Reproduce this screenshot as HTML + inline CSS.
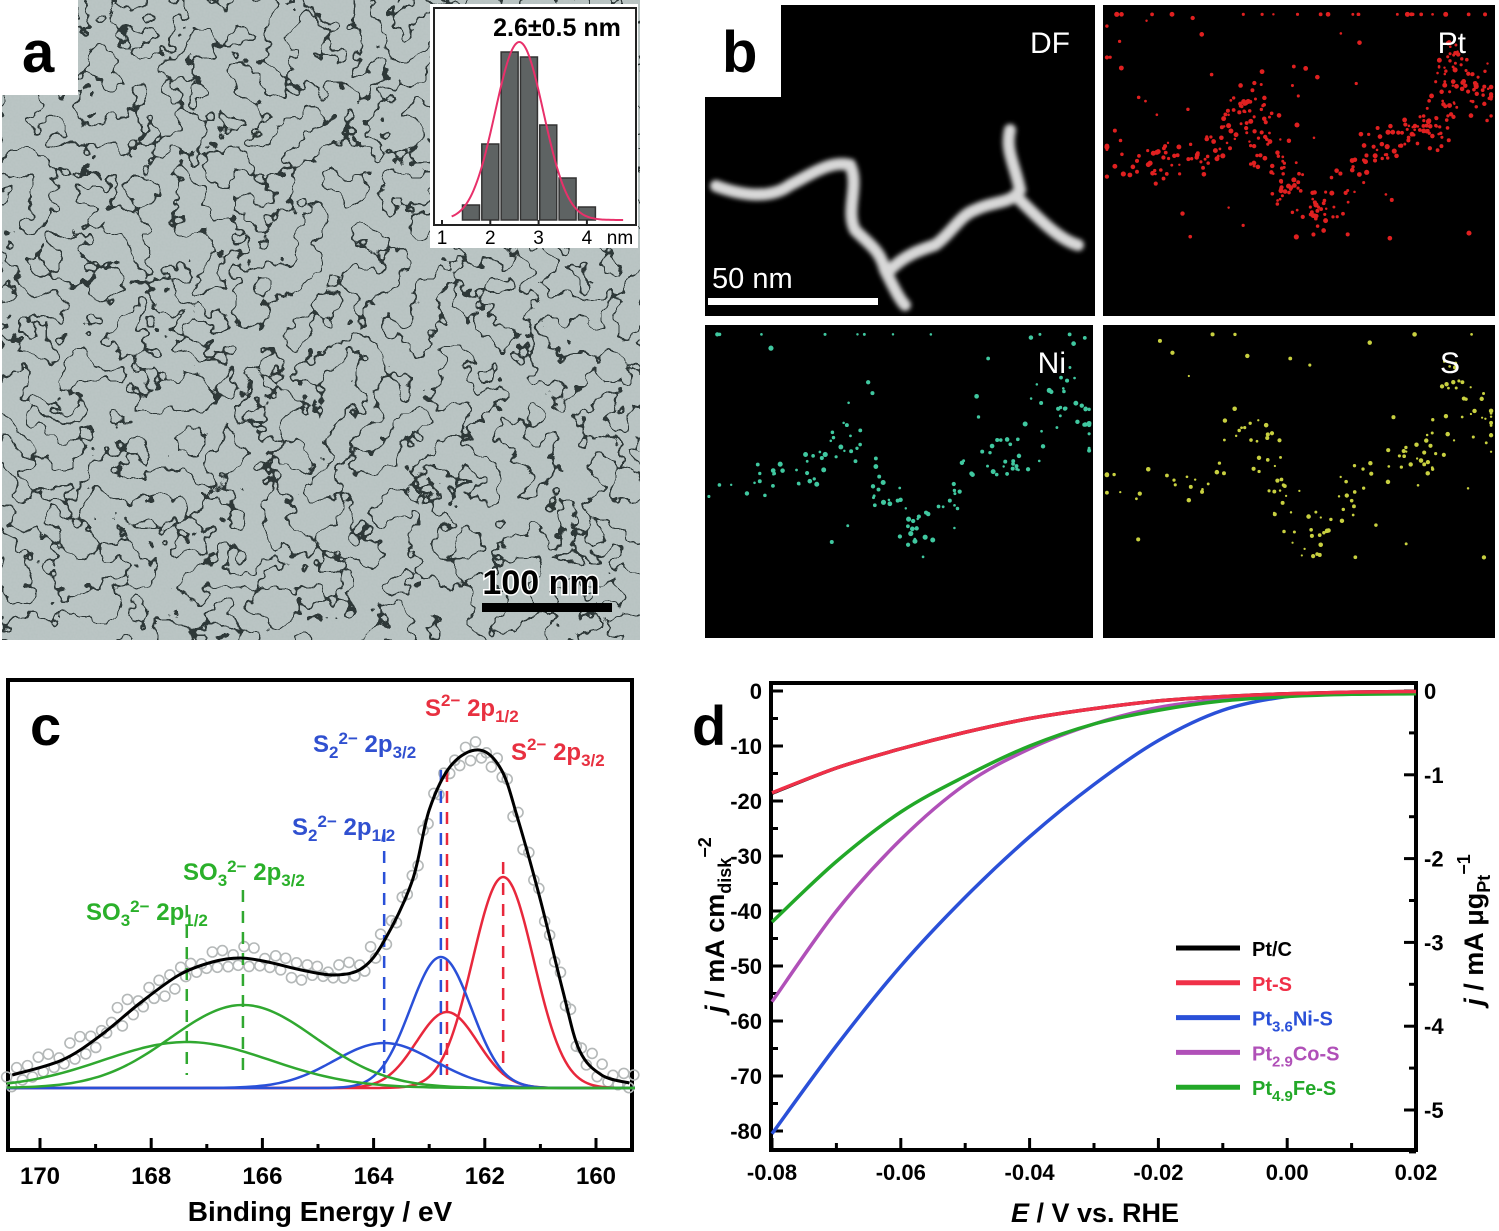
<!DOCTYPE html>
<html><head><meta charset="utf-8"><style>
html,body{margin:0;padding:0;background:#fff;}
svg{display:block;font-family:"Liberation Sans",Arial,sans-serif;font-weight:bold;}
</style></head><body>
<svg id="fig" width="1499" height="1231" viewBox="0 0 1499 1231" xmlns="http://www.w3.org/2000/svg">
<defs>
<filter id="tem" x="0" y="0" width="100%" height="100%" filterUnits="objectBoundingBox">
<feTurbulence type="fractalNoise" baseFrequency="0.034" numOctaves="3" seed="7" result="n"/>
<feColorMatrix in="n" type="matrix" values="0 0 0 0 0  0 0 0 0 0  0 0 0 0 0  1.2 0 0 0 -0.1" result="a"/>
<feComponentTransfer in="a" result="c"><feFuncA type="discrete" tableValues="0 0 0 0 0 0 0 0 0 0 0 0.9 0 0 0 0 0 0 0 0 0 0 0 0"/></feComponentTransfer>
<feFlood flood-color="#1c2828"/>
<feComposite in2="c" operator="in"/>
</filter>
<filter id="grain" x="0" y="0" width="100%" height="100%" filterUnits="objectBoundingBox"><feTurbulence type="fractalNoise" baseFrequency="0.5" numOctaves="1" seed="3"/><feColorMatrix type="matrix" values="0 0 0 0 0.6  0 0 0 0 0.66  0 0 0 0 0.66  0 0 0 0.3 0"/></filter>
<filter id="blur2"><feGaussianBlur stdDeviation="2.5"/></filter>
<clipPath id="clipA"><rect x="2" y="0" width="638" height="640"/></clipPath>
</defs>

<!-- Panel a -->
<g>
<rect x="2" y="0" width="638" height="640" fill="#b6c1c0"/>
<g clip-path="url(#clipA)">
<rect x="2" y="0" width="638" height="640" filter="url(#grain)"/>
<rect x="2" y="0" width="638" height="640" filter="url(#tem)"/>
</g>
<rect x="0" y="0" width="78" height="95" fill="#fff"/>
<text x="22" y="72" font-size="58" fill="#000">a</text>
<rect x="482" y="603" width="130" height="9" fill="#000"/>
<text x="541" y="594" font-size="34" text-anchor="middle" fill="#000" stroke="#fff" stroke-width="3" paint-order="stroke">100 nm</text>
<g id="hist">
<rect x="430" y="4" width="208" height="244" fill="#fff"/>
<rect x="434" y="8" width="202" height="217" fill="none" stroke="#222" stroke-width="2"/>
<text x="557" y="36" font-size="25" text-anchor="middle">2.6±0.5 nm</text>
</g>
</g>

<!-- Panel b -->
<g>
<rect x="705" y="5" width="390" height="311" fill="#000"/>
<rect x="1103" y="5" width="392" height="311" fill="#000"/>
<rect x="705" y="325" width="388" height="313" fill="#000"/>
<rect x="1103" y="325" width="392" height="313" fill="#000"/>
<path d="M716,186 C740,195 770,200 790,185 C810,175 830,160 850,165 C860,185 845,210 855,230 C870,245 880,250 885,270 C895,290 900,300 905,305 M890,270 C905,255 920,250 935,245 C950,235 960,215 975,210 C995,200 1010,205 1020,190 C1015,165 1005,150 1010,130 M1020,200 C1040,220 1060,240 1078,245" fill="none" stroke="#d8d8d8" stroke-width="12" stroke-linecap="round" filter="url(#blur2)"/>
<g id="dots"></g>
<text x="1070" y="53" font-size="30" text-anchor="end" fill="#fff" font-weight="normal">DF</text>
<text x="1466" y="53" font-size="30" text-anchor="end" fill="#fff" font-weight="normal">Pt</text>
<text x="1066" y="373" font-size="30" text-anchor="end" fill="#fff" font-weight="normal">Ni</text>
<text x="1460" y="373" font-size="30" text-anchor="end" fill="#fff" font-weight="normal">S</text>
<rect x="708" y="298" width="170" height="7" fill="#fff"/>
<text x="712" y="288" font-size="29" fill="#fff" font-weight="normal">50 nm</text>
<rect x="705" y="0" width="76" height="97" fill="#fff"/>
<text x="722" y="72" font-size="58" fill="#000">b</text>
</g>

<!-- Panel c -->
<g id="pc">
<rect x="8" y="680" width="624" height="470" fill="#fff" stroke="#000" stroke-width="4"/>
<text x="30" y="745" font-size="56">c</text>
<text x="320" y="1221" font-size="28" text-anchor="middle">Binding Energy / eV</text>
<g font-size="24">
<text x="86" y="920" fill="#2ab02a">SO<tspan font-size="17" dy="6">3</tspan><tspan font-size="17" dy="-14">2−</tspan><tspan dy="8"> 2p</tspan><tspan font-size="17" dy="6">1/2</tspan></text>
<text x="183" y="880" fill="#2ab02a">SO<tspan font-size="17" dy="6">3</tspan><tspan font-size="17" dy="-14">2−</tspan><tspan dy="8"> 2p</tspan><tspan font-size="17" dy="6">3/2</tspan></text>
<text x="292" y="835" fill="#3050d0">S<tspan font-size="17" dy="6">2</tspan><tspan font-size="17" dy="-14">2−</tspan><tspan dy="8"> 2p</tspan><tspan font-size="17" dy="6">1/2</tspan></text>
<text x="313" y="752" fill="#3050d0">S<tspan font-size="17" dy="6">2</tspan><tspan font-size="17" dy="-14">2−</tspan><tspan dy="8"> 2p</tspan><tspan font-size="17" dy="6">3/2</tspan></text>
<text x="425" y="716" fill="#e83040">S<tspan font-size="17" dy="-10">2−</tspan><tspan dy="10"> 2p</tspan><tspan font-size="17" dy="6">1/2</tspan></text>
<text x="511" y="760" fill="#e83040">S<tspan font-size="17" dy="-10">2−</tspan><tspan dy="10"> 2p</tspan><tspan font-size="17" dy="6">3/2</tspan></text>
</g>
</g>

<!-- Panel d -->
<g id="pd">
<rect x="771" y="683" width="645" height="467" fill="#fff" stroke="#000" stroke-width="4"/>
<text x="692" y="745" font-size="56">d</text>
<text x="1095" y="1222" font-size="27" text-anchor="middle"><tspan font-style="italic">E</tspan> / V vs. RHE</text>
<text transform="translate(724,925) rotate(-90)" font-size="27" text-anchor="middle"><tspan font-style="italic">j</tspan> / mA cm<tspan font-size="18" dy="7">disk</tspan><tspan font-size="18" dy="-20">−2</tspan></text>
<text transform="translate(1483,930) rotate(-90)" font-size="27" text-anchor="middle"><tspan font-style="italic">j</tspan> / mA μg<tspan font-size="18" dy="7">Pt</tspan><tspan font-size="18" dy="-20">−1</tspan></text>
</g>
</svg>
<script>
// ---------- Panel a inset histogram data ----------
const histBins = [1.6, 2.0, 2.4, 2.8, 3.2, 3.6, 4.0];
const histCounts = [15, 76, 168, 163, 95, 42, 13];
const histXTicks = [1, 2, 3, 4];
const fitMean = 2.6, fitSigma = 0.5, fitPeak = 178;

// ---------- Panel c XPS data ----------
const xpsTicks = [170, 168, 166, 164, 162, 160];
const envE = [170.5,169.6,168.9,168.2,167.5,166.9,166.4,165.9,165.3,164.7,164.2,163.8,163.3,163.0,162.6,162.1,161.7,161.4,161.0,160.6,160.3,159.9,159.4];
const envI = [13,28,53,85,113,126,130,126,118,113,120,148,208,278,323,338,318,268,188,98,38,13,5];
const pointOffsets = [6,-8,10,-5,12,-9,4,14,-6,9,-11,7,-4,10,-7,12,-5,8,-10,6,-3,9,-6,11,-8,5,-9,7,-5,10,-6,8,-12,6,-4,9,-7,11,-5,8];
const compCenters = [161.67, 162.68, 162.79, 163.81, 166.35, 167.36];
const compHeights = [211, 76, 131, 45, 83, 46];
const compSigmas = [0.55, 0.55, 0.55, 0.9, 1.3, 1.5];
const compColors = ["#e8283c","#e8283c","#2a50d8","#2a50d8","#30a830","#30a830"];
const dashTops = [862, 770, 770, 830, 890, 905];

// ---------- Panel d LSV data ----------
const potentials = [-0.08,-0.07,-0.06,-0.05,-0.04,-0.03,-0.02,-0.01,0,0.01,0.02];
const ptC   = [-18.6,-14,-10.5,-7.5,-5,-3.2,-1.8,-1,-0.5,-0.2,-0.1];
const ptS   = [-18.5,-14,-10.5,-7.5,-5,-3.2,-1.8,-1,-0.5,-0.2,-0.1];
const ptNiS = [-80.5,-64.5,-50,-37.5,-26.5,-17,-9,-3.5,-1,-0.4,-0.2];
const ptCoS = [-56.5,-40,-27,-17,-10.5,-6,-3,-1.5,-0.7,-0.3,-0.2];
const ptFeS = [-42,-31,-22,-15.5,-10,-6,-3.5,-1.8,-1,-0.6,-0.5];
const leftTicks = [0,-10,-20,-30,-40,-50,-60,-70,-80];
const rightTicks = [0,-1,-2,-3,-4,-5];
const xTicksD = [-0.08,-0.06,-0.04,-0.02,0.00,0.02];
const legendNames = ["Pt/C","Pt-S","Pt3.6Ni-S","Pt2.9Co-S","Pt4.9Fe-S"];

const NS = "http://www.w3.org/2000/svg";
function mk(tag, attrs, parent){const e=document.createElementNS(NS,tag);for(const k in attrs)e.setAttribute(k,attrs[k]);parent.appendChild(e);return e;}
function smooth(pts){let d="M"+pts[0][0]+","+pts[0][1];for(let i=0;i<pts.length-1;i++){const p0=pts[i-1]||pts[i],p1=pts[i],p2=pts[i+1],p3=pts[i+2]||p2;d+=" C"+(p1[0]+(p2[0]-p0[0])/6)+","+(p1[1]+(p2[1]-p0[1])/6)+" "+(p2[0]-(p3[0]-p1[0])/6)+","+(p2[1]-(p3[1]-p1[1])/6)+" "+p2[0]+","+p2[1];}return d;}

// ---- histogram ----
const hist = document.getElementById("hist");
const hx = v => 442 + (v-1)*48.3, hy = c => 220 - c;
histBins.forEach((b,i)=>{
  const r = mk("rect",{x:hx(b)-8.5,y:hy(histCounts[i]),width:17,height:histCounts[i],fill:"#5e6363",stroke:"#333","stroke-width":1.5},hist);
  
  
});
{ let pts=[]; for(let v=1.2; v<=4.75; v+=0.05){pts.push([hx(v), hy(fitPeak*Math.exp(-((v-fitMean)**2)/(2*fitSigma*fitSigma)))]);}
  const p = mk("path",{d:smooth(pts),fill:"none",stroke:"#e8306a","stroke-width":2},hist);
  
  
}
histXTicks.forEach(t=>{
  mk("line",{x1:hx(t),x2:hx(t),y1:225,y2:220,stroke:"#222","stroke-width":2},hist);
  const tx = mk("text",{x:hx(t),y:244,"font-size":19,"font-weight":"normal","text-anchor":"middle"},hist);
  tx.textContent = t;
  
  
});
{ const tx = mk("text",{x:620,y:244,"font-size":19,"font-weight":"normal","text-anchor":"middle"},hist); tx.textContent="nm";
  
   }

// ---- EDS dots (decorative) ----
const dots = document.getElementById("dots");
let seed = 11; const rnd = ()=>{seed=(seed*16807)%2147483647;return seed/2147483647;};
const wire = [[0,0.75],[0.25,0.75],[0.38,0.55],[0.45,0.8],[0.55,0.95],[0.7,0.7],[0.85,0.65],[0.9,0.4],[1,0.6]];
function wirePt(){const i=Math.floor(rnd()*(wire.length-1));const t=rnd();return [wire[i][0]+(wire[i+1][0]-wire[i][0])*t+(rnd()-0.5)*0.08,wire[i][1]+(wire[i+1][1]-wire[i][1])*t+(rnd()-0.5)*0.12];}
[[1103,5,392,311,"#e02020",420,2],[705,325,388,313,"#40c8a0",170,2],[1103,325,392,313,"#c8d040",170,1.8]].forEach(([x,y,w,h,c,n,r])=>{
  for(let k=0;k<n;k++){const p = rnd()<0.85?wirePt():[rnd(),rnd()];const px=x+Math.min(Math.max(p[0],0.01),0.99)*w, py=y+Math.min(Math.max(p[1]-0.25,0.03),0.97)*h;
    mk("circle",{cx:px,cy:py,r:r*(0.6+rnd()*0.7),fill:c},dots);}
});

// ---- Panel c ----
const pc = document.getElementById("pc");
const cx = e => 40 + (170-e)*55.6, cy = i => 1088 - i;
xpsTicks.forEach(t=>{
  mk("line",{x1:cx(t),x2:cx(t),y1:1150,y2:1138,stroke:"#000","stroke-width":3},pc);
  if(cx(t-1) < 630) mk("line",{x1:cx(t-1),x2:cx(t-1),y1:1150,y2:1144,stroke:"#000","stroke-width":3},pc);
  const tx = mk("text",{x:cx(t),y:1184,"font-size":24,"text-anchor":"middle"},pc);
  tx.textContent = t;
  
  
});
function envAt(e){for(let i=0;i<envE.length-1;i++){if(e<=envE[i]&&e>=envE[i+1]){const t=(envE[i]-e)/(envE[i]-envE[i+1]);return envI[i]+(envI[i+1]-envI[i])*t;}}return 5;}
pointOffsets.forEach((o,i)=>{
  const e = 170.6 - i*(11.1/(pointOffsets.length-1));
  for(let j=0;j<3;j++){const ee=e-j*0.09;
    const c = mk("circle",{cx:cx(ee),cy:cy(envAt(ee)+o*(j===1?-0.6:1)),r:5,fill:"none",stroke:"#b4b8b8","stroke-width":1.6},pc);
    
    }
});
compCenters.forEach((c0,k)=>{
  let pts=[]; for(let e=170.6;e>=159.3;e-=0.1){pts.push([cx(e), cy(compHeights[k]*Math.exp(-((e-c0)**2)/(2*compSigmas[k]**2)))]);}
  const p = mk("path",{d:smooth(pts),fill:"none",stroke:compColors[k],"stroke-width":2.5},pc);
  
  
  const l = mk("line",{x1:cx(c0),x2:cx(c0),y1:dashTops[k],y2:1075,stroke:compColors[k],"stroke-width":2.5,"stroke-dasharray":"12,9"},pc);
  
  
});
{ const p = mk("path",{d:smooth(envE.map((e,i)=>[cx(e),cy(envI[i])])),fill:"none",stroke:"#000","stroke-width":3},pc);
  
   }

// ---- Panel d ----
const pd = document.getElementById("pd");
const dx = v => 772 + (v+0.08)*6440;
const dyL = j => 691 + (-j)*5.5, dyR = m => 691 + (-m)*83.8;
leftTicks.forEach(t=>{
  mk("line",{x1:771,x2:783,y1:dyL(t),y2:dyL(t),stroke:"#000","stroke-width":3},pd);
  if(t>-80) mk("line",{x1:771,x2:778,y1:dyL(t-5),y2:dyL(t-5),stroke:"#000","stroke-width":3},pd);
  const tx = mk("text",{x:762,y:dyL(t)+8,"font-size":22,"text-anchor":"end"},pd);
  tx.textContent = t;
  
  
});
rightTicks.forEach(t=>{
  mk("line",{x1:1404,x2:1416,y1:dyR(t),y2:dyR(t),stroke:"#000","stroke-width":3},pd);
  mk("line",{x1:1409,x2:1416,y1:dyR(t-0.5),y2:dyR(t-0.5),stroke:"#000","stroke-width":3},pd);
  const tx = mk("text",{x:1424,y:dyR(t)+8,"font-size":22},pd);
  tx.textContent = t;
  
  
});
xTicksD.forEach(t=>{
  mk("line",{x1:dx(t),x2:dx(t),y1:1150,y2:1138,stroke:"#000","stroke-width":3},pd);
  if(t<0.02) mk("line",{x1:dx(t+0.01),x2:dx(t+0.01),y1:1150,y2:1143,stroke:"#000","stroke-width":3},pd);
  const tx = mk("text",{x:dx(t),y:1180,"font-size":22,"text-anchor":"middle"},pd);
  tx.textContent = t.toFixed(2);
  
  
});
const series = [[ptC,"#000"],[ptNiS,"#2a50d8"],[ptCoS,"#b050b8"],[ptFeS,"#22a828"],[ptS,"#f03048"]];
series.forEach(([vals,col])=>{
  const p = mk("path",{d:smooth(potentials.map((v,i)=>[dx(v),dyL(vals[i])])),fill:"none",stroke:col,"stroke-width":3.5},pd);
  
  
});
const legCols = ["#000","#f03048","#2a50d8","#b050b8","#22a828"];
const legSubs = [null,null,["Pt","3.6","Ni-S"],["Pt","2.9","Co-S"],["Pt","4.9","Fe-S"]];
legendNames.forEach((n,i)=>{
  const y = 948 + i*34.8;
  const l = mk("line",{x1:1176,x2:1240,y1:y,y2:y,stroke:legCols[i],"stroke-width":5},pd);
  
  
  const tx = mk("text",{x:1252,y:y+8,"font-size":20,fill:legCols[i]},pd);
  
  
  if(legSubs[i]){const s=legSubs[i];tx.appendChild(document.createTextNode(s[0]));const ts=mk("tspan",{"font-size":15,dy:6},tx);ts.textContent=s[1];const t2=mk("tspan",{dy:-6},tx);t2.textContent=s[2];}
  else tx.textContent = n;
});
</script>
</body></html>
